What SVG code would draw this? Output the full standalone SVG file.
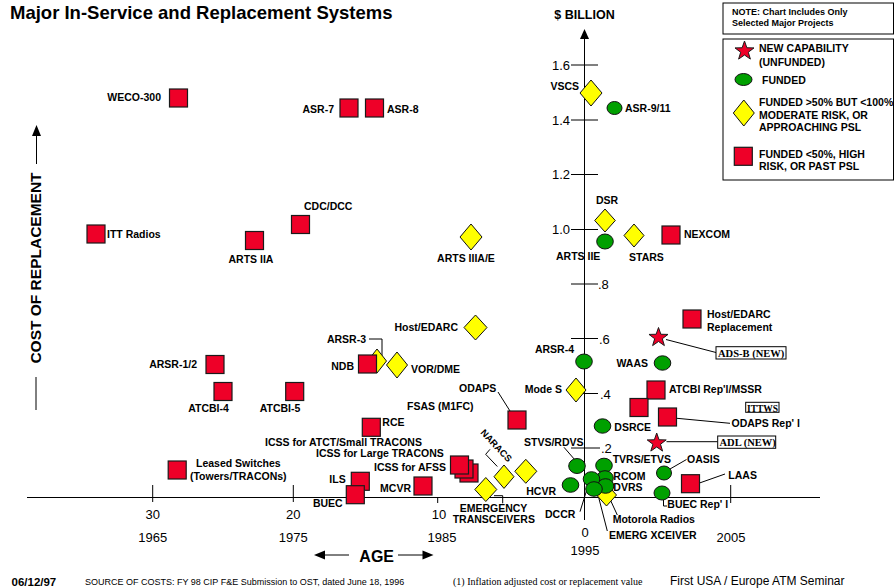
<svg xmlns="http://www.w3.org/2000/svg" width="895" height="588" viewBox="0 0 895 588">
<style>
.sq{fill:#ee0028;stroke:#1a1a1a;stroke-width:1.2}
.ci{fill:#00a000;stroke:#111;stroke-width:1}
.di{fill:#ffff00;stroke:#111;stroke-width:1}
.st{fill:#ee0028;stroke:#1a1a1a;stroke-width:1}
.ln{fill:none;stroke:#000;stroke-width:1}
.lb{font-family:"Liberation Sans",Arial,sans-serif;font-weight:bold;font-size:10.5px;fill:#000}
.ax{font-family:"Liberation Sans",Arial,sans-serif;font-size:13px;fill:#000}
.nb{font-family:"Liberation Serif","Times New Roman",serif;font-weight:bold;font-size:10.5px;fill:#000}
.bx{fill:#fff;stroke:#000;stroke-width:1}
.e{text-anchor:end}.m{text-anchor:middle}
</style>
<defs>
<rect id="sq" x="-9" y="-9" width="18" height="18"/>
<path id="st" d="M0,-10L2.35,-3.24L9.51,-3.09L3.8,1.24L5.88,8.09L0,4L-5.88,8.09L-3.8,1.24L-9.51,-3.09L-2.35,-3.24Z"/>
</defs>
<rect width="895" height="588" fill="#fff"/>

<g id="title">
<text x="10" y="18.5" style="font-family:'Liberation Sans',Arial,sans-serif;font-weight:bold;font-size:18.5px">Major In-Service and Replacement Systems</text>
</g>

<g id="axes">
<line class="ln" x1="584.5" y1="37" x2="584.5" y2="520" stroke-width="1.3"/>
<polygon points="584.5,29 580,39 589,39" fill="#000"/>
<line class="ln" x1="27" y1="497.5" x2="820" y2="497.5" stroke-width="1.3"/>
<line class="ln" x1="152.7" y1="485" x2="152.7" y2="502"/>
<line class="ln" x1="293.3" y1="485" x2="293.3" y2="502"/>
<line class="ln" x1="437.7" y1="497" x2="437.7" y2="503"/>
<line class="ln" x1="730.7" y1="485" x2="730.7" y2="503"/>
<g class="ln">
<line x1="571" y1="65" x2="598" y2="65"/>
<line x1="571" y1="120" x2="598" y2="120"/>
<line x1="571" y1="174.5" x2="598" y2="174.5"/>
<line x1="571" y1="229.5" x2="598" y2="229.5"/>
<line x1="571" y1="284" x2="598" y2="284"/>
<line x1="571" y1="338.5" x2="598" y2="338.5"/>
<line x1="571" y1="393.5" x2="598" y2="393.5"/>
<line x1="571" y1="448" x2="600" y2="448"/>
</g>
<text class="ax e" x="570" y="69.5">1.6</text>
<text class="ax e" x="570" y="124.5">1.4</text>
<text class="ax e" x="570" y="179">1.2</text>
<text class="ax e" x="570" y="234">1.0</text>
<text class="ax" x="598" y="289">.8</text>
<text class="ax" x="599" y="343.5">.6</text>
<text class="ax" x="600" y="398.5">.4</text>
<text class="ax" x="601" y="453">.2</text>
<text x="584.5" y="18.5" class="m" style="font-family:'Liberation Sans',Arial,sans-serif;font-weight:bold;font-size:12.5px">$ BILLION</text>
<text class="ax m" x="152.7" y="519">30</text>
<text class="ax m" x="152.7" y="542">1965</text>
<text class="ax m" x="293.3" y="519">20</text>
<text class="ax m" x="293.3" y="542">1975</text>
<text class="ax m" x="439" y="519">10</text>
<text class="ax m" x="442" y="542">1985</text>
<text class="ax m" x="585" y="537">0</text>
<text class="ax m" x="585" y="555">1995</text>
<text class="ax m" x="731" y="542">2005</text>
<text x="376.7" y="562" class="m" style="font-family:'Liberation Sans',Arial,sans-serif;font-weight:bold;font-size:16px">AGE</text>
<line class="ln" x1="323" y1="555" x2="349" y2="555" stroke-width="1.5"/>
<polygon points="314,555 325,550.5 325,559.5" fill="#000"/>
<line class="ln" x1="398" y1="555" x2="424" y2="555" stroke-width="1.5"/>
<polygon points="433.5,555 422.5,550.5 422.5,559.5" fill="#000"/>
<text transform="translate(40.5,268) rotate(-90)" class="m" style="font-family:'Liberation Sans',Arial,sans-serif;font-weight:bold;font-size:15.5px">COST OF REPLACEMENT</text>
<line class="ln" x1="36.5" y1="134" x2="36.5" y2="164" stroke-width="1.5"/>
<polygon points="36.5,125 32,136 41,136" fill="#000"/>
<line class="ln" x1="36" y1="377" x2="36" y2="410" stroke-width="1.5"/>
</g>

<g id="legend">
<rect class="bx" x="723" y="3" width="170.5" height="31" stroke-width="1.5"/>
<text x="732" y="15" style="font-family:'Liberation Sans',Arial,sans-serif;font-weight:bold;font-size:9px">NOTE: Chart Includes Only</text>
<text x="732" y="25.5" style="font-family:'Liberation Sans',Arial,sans-serif;font-weight:bold;font-size:9px">Selected Major Projects</text>
<rect class="bx" x="723" y="39" width="170.5" height="141" stroke-width="1.5"/>
<use href="#st" class="st" x="744.5" y="51"/>
<text class="lb" x="759" y="52">NEW CAPABILITY</text>
<text class="lb" x="759" y="65.5">(UNFUNDED)</text>
<ellipse class="ci" cx="743.5" cy="79.5" rx="8.5" ry="6"/>
<text class="lb" x="762" y="84">FUNDED</text>
<path class="di" d="M743.8,100L754.3,113L743.8,126L733.3,113Z"/>
<text class="lb" x="759" y="106">FUNDED &gt;50% BUT &lt;100%</text>
<text class="lb" x="759" y="119">MODERATE RISK, OR</text>
<text class="lb" x="759" y="131">APPROACHING PSL</text>
<use href="#sq" class="sq" x="743.3" y="156.3"/>
<text class="lb" x="759" y="158">FUNDED &lt;50%, HIGH</text>
<text class="lb" x="759" y="170">RISK, OR PAST PSL</text>
</g>

<g id="connectors" class="ln">
<polyline points="369,339 382,339 382,356"/>
<line x1="498" y1="392" x2="510" y2="411"/>
<polyline points="490,449.3 485.7,454.3 497.3,466.5"/>
<polyline points="494,495.7 502.7,495.7 502.7,503.3"/>
<line x1="564" y1="447.3" x2="575" y2="460"/>
<line x1="580" y1="511.7" x2="588" y2="486"/>
<line x1="598.3" y1="496" x2="607.3" y2="531"/>
<line x1="609" y1="497" x2="617.3" y2="515"/>
<line x1="670" y1="469" x2="686.5" y2="459.5"/>
<line x1="699.5" y1="483" x2="725" y2="474"/>
<polyline points="663.5,500 663.5,506 667,506"/>
<line x1="677" y1="418.3" x2="730" y2="423.3"/>
<line x1="666" y1="339.5" x2="716" y2="352.5"/>
<line x1="666.5" y1="441.7" x2="717.7" y2="441.7"/>
</g>

<g id="weco-300"><use href="#sq" class="sq" x="178.5" y="98"/><text class="lb e" x="161" y="101">WECO-300</text></g>
<g id="asr-7"><use href="#sq" class="sq" x="349" y="108"/><text class="lb e" x="334" y="113">ASR-7</text></g>
<g id="asr-8"><use href="#sq" class="sq" x="374.5" y="108"/><text class="lb" x="387" y="113">ASR-8</text></g>
<g id="vscs"><path class="di" d="M591,80L602,93L591,106L580,93Z"/><text class="lb e" x="579" y="90">VSCS</text></g>
<g id="asr-9-11"><ellipse class="ci" cx="614.5" cy="108" rx="7.5" ry="6.5"/><text class="lb" x="625" y="112">ASR-9/11</text></g>
<g id="itt-radios"><use href="#sq" class="sq" x="96" y="234"/><text class="lb" x="107" y="238">ITT Radios</text></g>
<g id="arts-iia"><use href="#sq" class="sq" x="254.5" y="240.5"/><text class="lb m" x="251" y="263">ARTS IIA</text></g>
<g id="cdc-dcc"><use href="#sq" class="sq" x="300.5" y="224.5"/><text class="lb" x="304" y="210">CDC/DCC</text></g>
<g id="arts-iiia-e"><path class="di" d="M471,224L482,237L471,250L460,237Z"/><text class="lb m" x="466" y="262">ARTS IIIA/E</text></g>
<g id="dsr"><path class="di" d="M605,209L615.3,220.5L605,232L594.7,220.5Z"/><text class="lb" x="596" y="204">DSR</text></g>
<g id="arts-iie"><ellipse class="ci" cx="605" cy="241.5" rx="8.3" ry="7.5"/><text class="lb" x="556" y="260">ARTS IIE</text></g>
<g id="stars"><path class="di" d="M634,224L644,235.5L634,247L624,235.5Z"/><text class="lb" x="629" y="261">STARS</text></g>
<g id="nexcom"><use href="#sq" class="sq" x="671" y="235"/><text class="lb" x="684" y="238">NEXCOM</text></g>
<g id="host-edarc"><path class="di" d="M475.5,315L487,327.5L475.5,340L464,327.5Z"/><text class="lb e" x="458" y="331">Host/EDARC</text></g>
<g id="host-edarc-replacement"><use href="#sq" class="sq" x="692" y="319"/><text class="lb" x="707" y="318">Host/EDARC</text><text class="lb" x="707" y="330.5">Replacement</text></g>
<g id="ads-b"><use href="#st" class="st" x="658.5" y="337.5"/><rect class="bx" x="716" y="346.7" width="70" height="12.3"/><text class="nb" x="718" y="357">ADS-B (NEW)</text></g>
<g id="arsr-3"><path class="di" d="M377,349L386.5,361L377,373L367.5,361Z"/><text class="lb e" x="366" y="343">ARSR-3</text></g>
<g id="ndb"><use href="#sq" class="sq" x="367.5" y="364"/><text class="lb e" x="354" y="370">NDB</text></g>
<g id="vor-dme"><path class="di" d="M397,352L407.5,365L397,378L386.5,365Z"/><text class="lb" x="411" y="373">VOR/DME</text></g>
<g id="arsr-1-2"><use href="#sq" class="sq" x="215" y="364.5"/><text class="lb e" x="197" y="368">ARSR-1/2</text></g>
<g id="arsr-4"><ellipse class="ci" cx="584" cy="361.5" rx="8.3" ry="7.5"/><text class="lb e" x="574" y="353">ARSR-4</text></g>
<g id="waas"><ellipse class="ci" cx="662.5" cy="363" rx="8.3" ry="7.2"/><text class="lb e" x="648" y="367">WAAS</text></g>
<g id="atcbi-4"><use href="#sq" class="sq" x="223" y="391.5"/><text class="lb m" x="208.5" y="412">ATCBI-4</text></g>
<g id="atcbi-5"><use href="#sq" class="sq" x="294.7" y="391.5"/><text class="lb m" x="280" y="412">ATCBI-5</text></g>
<g id="mode-s"><path class="di" d="M576,378L586,390L576,402L566,390Z"/><text class="lb e" x="562" y="393">Mode S</text></g>
<g id="odaps"><use href="#sq" class="sq" x="517" y="420"/><text class="lb" x="459" y="392">ODAPS</text></g>
<g id="fsas"><text class="lb" x="407" y="410">FSAS (M1FC)</text></g>
<g id="atcbi-repl-mssr"><use href="#sq" class="sq" x="656" y="390"/><text class="lb" x="669" y="393">ATCBI Rep'l/MSSR</text></g>
<g id="ittws"><use href="#sq" class="sq" x="639" y="407.5"/><rect class="bx" x="745.7" y="402.3" width="33.3" height="10"/><text class="nb" x="747" y="411.5" style="font-size:9.5px">ITTWS</text></g>
<g id="odaps-repl"><use href="#sq" class="sq" x="667.5" y="417"/><text class="lb" x="731.5" y="427">ODAPS Rep' l</text></g>
<g id="dsrce"><ellipse class="ci" cx="602.5" cy="426" rx="8.3" ry="7.2"/><text class="lb" x="614.3" y="431">DSRCE</text></g>
<g id="adl"><use href="#st" class="st" x="656.7" y="443"/><rect class="bx" x="717.7" y="436" width="58" height="12.3"/><text class="nb" x="719.5" y="446.3">ADL (NEW)</text></g>
<g id="rce"><use href="#sq" class="sq" x="371.3" y="427.3"/><text class="lb" x="382.3" y="426">RCE</text></g>
<g id="icss"><use href="#sq" class="sq" x="469" y="473"/><use href="#sq" class="sq" x="464" y="469"/><use href="#sq" class="sq" x="459.5" y="465"/>
<text class="lb" x="265" y="445.7">ICSS for ATCT/Small TRACONS</text>
<text class="lb" x="316" y="456.5">ICSS for Large TRACONS</text>
<text class="lb" x="374" y="471">ICSS for AFSS</text></g>
<g id="leased-switches"><use href="#sq" class="sq" x="177.2" y="470"/><text class="lb m" x="238.3" y="466.7">Leased Switches</text><text class="lb m" x="238.3" y="480">(Towers/TRACONs)</text></g>
<g id="ils"><use href="#sq" class="sq" x="360.3" y="481.3"/><text class="lb e" x="345.7" y="482.7">ILS</text></g>
<g id="buec"><use href="#sq" class="sq" x="355.3" y="494.7"/><text class="lb e" x="342.7" y="506.7">BUEC</text></g>
<g id="mcvr"><use href="#sq" class="sq" x="423" y="486"/><text class="lb e" x="411" y="491.7">MCVR</text></g>
<g id="naracs"><path class="di" d="M504,465L514,476.7L504,488.4L494,476.7Z"/><text class="lb" transform="translate(480,433) rotate(47)" style="font-size:9.5px">NARACS</text></g>
<g id="diamond-2"><path class="di" d="M525.8,459.3L536.8,471.3L525.8,483.3L514.8,471.3Z"/></g>
<g id="emergency-transceivers"><path class="di" d="M485.8,477.5L496.8,489.5L485.8,501.5L474.8,489.5Z"/><text class="lb m" x="493.5" y="511.7">EMERGENCY</text><text class="lb m" x="493.8" y="522.7">TRANSCEIVERS</text></g>
<g id="motorola-radios"><path class="di" d="M606.5,484L616.5,495L606.5,506L596.5,495Z"/><text class="lb" x="612.7" y="522.7">Motorola Radios</text></g>
<g id="stvs-rdvs"><ellipse class="ci" cx="577" cy="466" rx="8.3" ry="7.5"/><text class="lb" x="524" y="446">STVS/RDVS</text></g>
<g id="hcvr"><ellipse class="ci" cx="570.5" cy="485" rx="8.3" ry="7.3"/><text class="lb e" x="556" y="495">HCVR</text></g>
<g id="tvrs-etvs"><ellipse class="ci" cx="604" cy="465.5" rx="8.3" ry="7.3"/><text class="lb" x="612.7" y="463.3">TVRS/ETVS</text></g>
<g id="rcom"><ellipse class="ci" cx="605" cy="478" rx="8.3" ry="7.3"/><text class="lb" x="613.3" y="480">RCOM</text></g>
<g id="dvrs"><ellipse class="ci" cx="605.5" cy="486" rx="8.3" ry="7.3"/><text class="lb" x="613.3" y="490.5">DVRS</text></g>
<g id="dccr"><ellipse class="ci" cx="591.5" cy="479" rx="8.3" ry="7.3"/><text class="lb" x="545" y="518.3">DCCR</text></g>
<g id="emerg-xceiver"><ellipse class="ci" cx="594" cy="489" rx="8.3" ry="7.3"/><text class="lb" x="609" y="539.3">EMERG XCEIVER</text></g>
<g id="oasis"><ellipse class="ci" cx="664" cy="473" rx="7.5" ry="7"/><text class="lb" x="687" y="463.3">OASIS</text></g>
<g id="laas"><use href="#sq" class="sq" x="690.5" y="483.7"/><text class="lb" x="728.3" y="479.3">LAAS</text></g>
<g id="buec-repl"><ellipse class="ci" cx="662" cy="493" rx="8" ry="7"/><text class="lb" x="667.3" y="508.3">BUEC Rep' l</text></g>

<g id="footer">
<text x="11.5" y="586" style="font-family:'Liberation Sans',Arial,sans-serif;font-weight:bold;font-size:11.5px">06/12/97</text>
<text x="85" y="585" style="font-family:'Liberation Sans',Arial,sans-serif;font-size:9px">SOURCE OF COSTS:  FY 98 CIP F&amp;E Submission to OST, dated June 18, 1996</text>
<text x="453" y="585" style="font-family:'Liberation Serif','Times New Roman',serif;font-size:10px">(1)  Inflation adjusted cost or replacement value</text>
<text x="670" y="585" style="font-family:'Liberation Sans',Arial,sans-serif;font-size:12px">First USA / Europe ATM Seminar</text>
</g>
</svg>
